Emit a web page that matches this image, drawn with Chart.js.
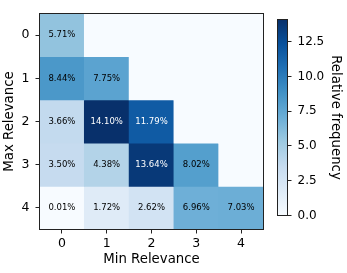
<!DOCTYPE html>
<html>
<head>
<meta charset="utf-8">
<script src="https://cdn.jsdelivr.net/npm/chart.js@4/dist/chart.umd.min.js"></script>
<style>
  html, body { margin: 0; padding: 0; background: #fff; }
  #wrap { position: relative; width: 347px; height: 273px; }
  #heat { position: absolute; left: 0; top: 0; }
  #cbar { position: absolute; left: 270px; top: 0; }
</style>
</head>
<body>
<div id="wrap">
  <canvas id="heat" width="270" height="273"></canvas>
  <canvas id="cbar" width="77" height="273"></canvas>
</div>
<script>
// min relevance across columns, max relevance down the rows
const minRelevance = ["0", "1", "2", "3", "4"];
const maxRelevance = [0, 1, 2, 3, 4];

// relative frequency (%) per row of max relevance
const row0 = [5.71, 0, 0, 0, 0];
const row1 = [8.44, 7.75, 0, 0, 0];
const row2 = [3.66, 14.10, 11.79, 0, 0];
const row3 = [3.50, 4.38, 13.64, 8.02, 0];
const row4 = [0.01, 1.72, 2.62, 6.96, 7.03];
const rows = [row0, row1, row2, row3, row4];

const colorbarTicks = [0, 2.5, 5, 7.5, 10, 12.5];
const vmax = 14.10;

const FONT = "'DejaVu Sans', sans-serif";
Chart.defaults.font.family = FONT;
Chart.defaults.color = "#000";

// matplotlib "Blues"
const blues = ["#f7fbff", "#deebf7", "#c6dbef", "#9ecae1", "#6baed6",
               "#4292c6", "#2171b5", "#08519c", "#08306b"];

function hexToRgb(h) {
    return [1, 3, 5].map(i => parseInt(h.substr(i, 2), 16));
}

function bluesAt(v) {
    let t = Math.max(0, Math.min(1, v / vmax)) * (blues.length - 1);
    const i = Math.min(Math.floor(t), blues.length - 2);
    const f = t - i;
    const a = hexToRgb(blues[i]);
    const b = hexToRgb(blues[i + 1]);
    const c = a.map((x, k) => Math.round(x + (b[k] - x) * f));
    return `rgb(${c[0]}, ${c[1]}, ${c[2]})`;
}

const datasets = rows.map((row, r) => ({
    label: "row " + maxRelevance[r],
    data: row.map((v, c) => ({ x: minRelevance[c], y: [maxRelevance[r] - 0.5, maxRelevance[r] + 0.5], v: v })),
    backgroundColor: row.map(v => bluesAt(v)),
    borderWidth: 0,
    grouped: false,
    barPercentage: 1,
    categoryPercentage: 1,
}));

const cellLabels = {
    id: "cellLabels",
    afterDatasetsDraw(chart) {
        const ctx = chart.ctx;
        ctx.save();
        ctx.font = "8.5px " + FONT;
        ctx.textAlign = "center";
        ctx.textBaseline = "middle";
        chart.data.datasets.forEach((ds, i) => {
            chart.getDatasetMeta(i).data.forEach((el, j) => {
                const v = ds.data[j].v;
                if (!v) return;
                const p = el.getCenterPoint();
                ctx.fillStyle = v > 10 ? "#fff" : "#000";
                ctx.fillText(v.toFixed(2) + "%", p.x, p.y);
            });
        });
        ctx.restore();
    },
    afterDraw(chart) {
        const a = chart.chartArea;
        const ctx = chart.ctx;
        ctx.save();
        ctx.strokeStyle = "#222";
        ctx.lineWidth = 1;
        ctx.strokeRect(a.left, a.top, a.right - a.left, a.bottom - a.top);
        ctx.restore();
    },
};

new Chart(document.getElementById("heat"), {
    type: "bar",
    data: { labels: minRelevance, datasets: datasets },
    options: {
        responsive: false,
        animation: false,
        layout: { padding: { top: 4.5, right: 6.5, left: 0, bottom: 0 } },
        plugins: { legend: { display: false }, tooltip: { enabled: false } },
        scales: {
            x: {
                type: "category",
                offset: true,
                grid: { offset: false, drawOnChartArea: false, drawTicks: true, tickLength: 4, color: "#222" },
                border: { display: false },
                ticks: { font: { size: 12.5 }, padding: 3, maxRotation: 0 },
                title: { display: true, text: "Min Relevance", font: { size: 13.3 }, padding: { top: 0, bottom: 5 } },
                afterFit(scale) { scale.height = 43.5; },
            },
            y: {
                type: "linear",
                reverse: true,
                min: -0.5,
                max: 4.5,
                grid: { drawOnChartArea: false, drawTicks: true, tickLength: 4, color: "#222" },
                border: { display: false },
                afterBuildTicks(scale) { scale.ticks = maxRelevance.map(v => ({ value: v })); },
                ticks: { font: { size: 12.5 }, padding: 6, callback: v => String(v) },
                title: { display: true, text: "Max Relevance", font: { size: 13.3 }, padding: { top: 2, bottom: 0 } },
                afterFit(scale) { scale.width = 39.5; },
            },
        },
    },
    plugins: [cellLabels],
});

const gradientBar = {
    id: "gradientBar",
    beforeDraw(chart) {
        const a = chart.chartArea;
        const ctx = chart.ctx;
        const g = ctx.createLinearGradient(0, a.bottom, 0, a.top);
        blues.forEach((c, i) => g.addColorStop(i / (blues.length - 1), c));
        ctx.save();
        ctx.fillStyle = g;
        ctx.fillRect(a.left, a.top, a.right - a.left, a.bottom - a.top);
        ctx.strokeStyle = "#222";
        ctx.lineWidth = 1;
        ctx.strokeRect(a.left, a.top, a.right - a.left, a.bottom - a.top);
        ctx.restore();
    },
};

new Chart(document.getElementById("cbar"), {
    type: "bar",
    data: { labels: [""], datasets: [{ data: [], backgroundColor: "transparent" }] },
    options: {
        responsive: false,
        animation: false,
        layout: { padding: { top: 19.5, left: 7.5, right: 0, bottom: 57.5 } },
        plugins: { legend: { display: false }, tooltip: { enabled: false } },
        scales: {
            x: { display: false },
            y: {
                position: "right",
                min: 0,
                max: vmax,
                grid: { drawOnChartArea: false, drawTicks: true, tickLength: 4, color: "#222" },
                border: { display: false },
                afterBuildTicks(scale) { scale.ticks = colorbarTicks.map(v => ({ value: v })); },
                ticks: { font: { size: 12 }, padding: 6, callback: v => v.toFixed(1) },
                title: { display: true, text: "Relative frequency", font: { size: 13.3 }, padding: { top: 4, bottom: 0 } },
                afterFit(scale) { scale.width = 59.5; },
            },
        },
    },
    plugins: [gradientBar],
});
</script>
</body>
</html>
